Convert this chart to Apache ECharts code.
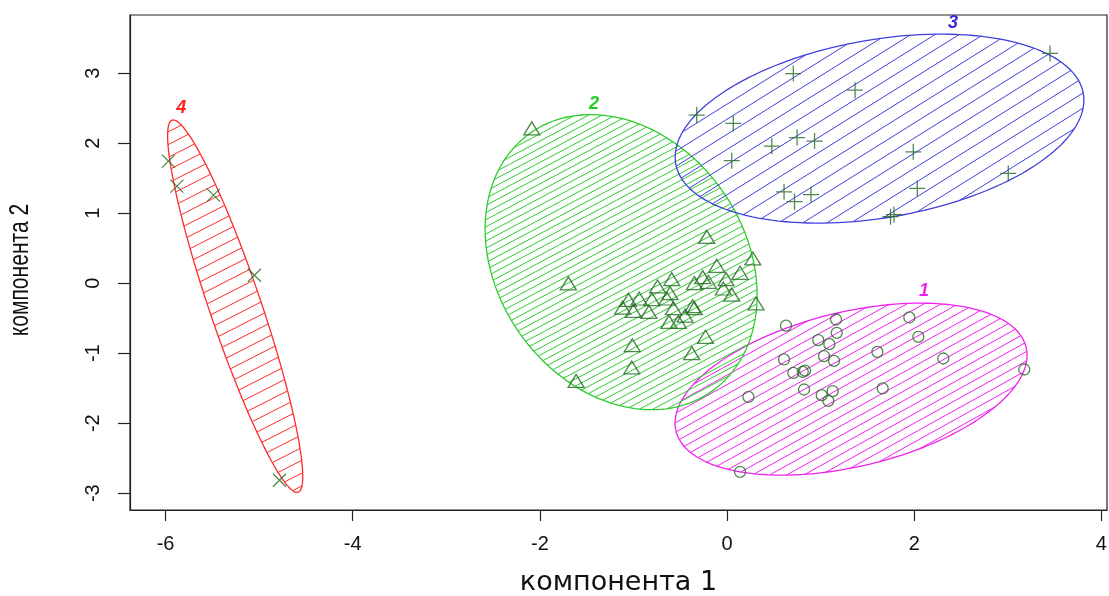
<!DOCTYPE html>
<html><head><meta charset="utf-8">
<script src="https://cdn.jsdelivr.net/npm/echarts@6/dist/echarts.min.js"></script>
<style>html,body{margin:0;padding:0;background:#fff}#c{width:1109px;height:596px}</style>
</head><body><div id="c"></div>
<script>
// ---- data ----
const xTicks = [-6, -4, -2, 0, 2, 4];
const yTicks = [-3, -2, -1, 0, 1, 2, 3];
const xTitle = 'компонента 1';
const yTitle = 'компонента 2';
const clusterNames = ['1', '2', '3', '4'];

// cluster 1 (circles)
const cluster1 = [
  [0.630,-0.607],[1.165,-0.519],[1.948,-0.490],[1.172,-0.710],[0.975,-0.814],
  [1.093,-0.871],[2.044,-0.767],[1.606,-0.981],[2.311,-1.076],[0.609,-1.090],
  [1.036,-1.043],[1.143,-1.110],[3.176,-1.233],[0.708,-1.281],[0.809,-1.267],
  [0.833,-1.250],[0.823,-1.519],[1.663,-1.504],[1.012,-1.600],[1.129,-1.543],
  [1.082,-1.681],[0.228,-1.624],[0.139,-2.696]
];
// cluster 2 (triangles)
const cluster2 = [
  [-2.087,2.210],[-0.217,0.661],[0.275,0.353],[-0.110,0.247],[0.139,0.147],
  [-0.260,0.086],[-0.200,0.019],[-0.349,0.000],[-0.591,0.057],[-0.743,-0.047],
  [-0.011,0.057],[-0.040,-0.076],[0.050,-0.164],[0.310,-0.290],[-1.696,-0.004],
  [-0.609,-0.143],[-0.804,-0.229],[-0.644,-0.219],[-0.940,-0.219],[-1.054,-0.239],
  [-1.116,-0.350],[-1.001,-0.396],[-0.835,-0.411],[-0.574,-0.357],[-0.369,-0.329],
  [-0.350,-0.357],[-0.449,-0.464],[-0.620,-0.553],[-0.520,-0.553],[-0.230,-0.767],
  [-1.013,-0.886],[-0.377,-1.000],[-1.018,-1.204],[-1.613,-1.396]
];
// cluster 3 (plus)
const cluster3 = [
  [-0.324,2.400],[0.067,2.281],[0.708,2.993],[1.368,2.757],[0.478,1.957],
  [0.748,2.079],[0.935,2.029],[0.050,1.750],[3.451,3.281],[1.990,1.876],
  [3.005,1.567],[0.609,1.304],[0.721,1.164],[0.897,1.264],[2.033,1.353],
  [1.747,0.950],[1.784,0.979]
];
// cluster 4 (x)
const cluster4 = [
  [-5.969,1.743],[-5.879,1.386],[-5.488,1.257],[-5.050,0.114],[-4.783,-2.814]
];

// cluster ellipses: centre and two conjugate semi-axis vectors (data units)
const ellipseCX  = [1.325, -1.132, 1.629, -5.256];
const ellipseCY  = [-1.514, 0.300, 2.207, -0.329];
const ellipseAX  = [1.871, 0.968, 2.178, -0.673];
const ellipseAY  = [0.596, -1.846, 0.499, 2.657];
const ellipseBX  = [0.191, -1.084, 0.160, 0.262];
const ellipseBY  = [-1.074, -1.016, -1.254, 0.118];
// cluster number label positions (data units)
const labelX = [2.105, -1.421, 2.415, -5.833];
const labelY = [-0.114, 2.557, 3.714, 2.500];

// ---- styles ----
const clusterColor = ['#ee22ee', '#2ecc2e', '#4040dd', '#ff2a2a'];
const labelColor   = ['#ee22ee', '#22cc22', '#3a2ad8', '#ff2020'];
const hatchAngle   = [29, 28, 32, 27];       // degrees, rising to the right
const hatchSpacing = [8.3, 6.3, 12.8, 11.4]; // px, perpendicular
const pointColor = '#246a24';
const narrowFont = '"Liberation Sans", Arial, sans-serif';

function renderEllipse(params, api) {
  const i = api.value(0);
  const N = 160, pts = [];
  for (let k = 0; k < N; k++) {
    const t = 2 * Math.PI * k / N;
    const x = ellipseCX[i] + ellipseAX[i] * Math.cos(t) + ellipseBX[i] * Math.sin(t);
    const y = ellipseCY[i] + ellipseAY[i] * Math.cos(t) + ellipseBY[i] * Math.sin(t);
    pts.push(api.coord([x, y]));
  }
  const th = hatchAngle[i] * Math.PI / 180;
  const nx = Math.sin(th), ny = Math.cos(th);
  const s = pts.map(p => p[0] * nx + p[1] * ny);
  const smin = Math.min(...s), smax = Math.max(...s);
  const sp = hatchSpacing[i];
  const children = [];
  for (let v = Math.ceil(smin / sp) * sp; v <= smax; v += sp) {
    const hits = [];
    for (let k = 0; k < N; k++) {
      const a = s[k], b = s[(k + 1) % N];
      if ((a - v) * (b - v) < 0) {
        const f = (v - a) / (b - a), p = pts[k], q = pts[(k + 1) % N];
        hits.push([p[0] + f * (q[0] - p[0]), p[1] + f * (q[1] - p[1])]);
      }
    }
    if (hits.length >= 2) {
      children.push({type: 'line', shape: {x1: hits[0][0], y1: hits[0][1], x2: hits[1][0], y2: hits[1][1]},
        style: {stroke: clusterColor[i], lineWidth: 1}});
    }
  }
  children.push({type: 'polygon', shape: {points: pts}, style: {stroke: clusterColor[i], fill: null, lineWidth: 1.3}});
  const lp = api.coord([labelX[i], labelY[i]]);
  children.push({type: 'text', x: lp[0], y: lp[1], style: {text: clusterNames[i], fill: labelColor[i],
    font: 'italic bold 18px "Liberation Sans", Arial', align: 'center', verticalAlign: 'middle'}});
  return {type: 'group', children};
}

const ptStyle = {color: 'transparent', borderColor: pointColor, borderWidth: 1.3};
const chart = echarts.init(document.getElementById('c'));
chart.setOption({
  animation: false,
  backgroundColor: '#fff',
  grid: {left: 130, top: 15, width: 977, height: 495, show: true, borderColor: '#222', borderWidth: 1.2,
         backgroundColor: '#fff', containLabel: false, outerBoundsMode: 'none'},
  graphic: [{
    type: 'text', x: 7, y: 270, rotation: Math.PI / 2, scaleX: 0.78,
    style: {text: yTitle, font: '27px ' + narrowFont, fill: '#111', align: 'center', verticalAlign: 'top'}
  }],
  xAxis: {
    type: 'value', min: -6.38, max: 4.06,
    name: xTitle, nameLocation: 'middle', nameGap: 59,
    nameTextStyle: {fontFamily: '"DejaVu Sans"', fontSize: 27, color: '#111'},
    axisLine: {show: true, onZero: false, lineStyle: {color: '#222', width: 1.2}},
    axisTick: {show: true, customValues: xTicks, length: 11, lineStyle: {color: '#222', width: 1.2}},
    axisLabel: {customValues: xTicks, margin: 24, fontSize: 20, color: '#111', fontFamily: narrowFont},
    splitLine: {show: false}
  },
  yAxis: {
    type: 'value', min: -3.24, max: 3.83,
    axisLine: {show: true, onZero: false, lineStyle: {color: '#222', width: 1.2}},
    axisTick: {show: true, customValues: yTicks, length: 12, lineStyle: {color: '#222', width: 1.2}},
    axisLabel: {customValues: yTicks, rotate: 90, margin: 27, fontSize: 20, color: '#111', fontFamily: narrowFont},
    splitLine: {show: false}
  },
  series: [
    {type: 'custom', renderItem: renderEllipse, data: [[0], [1], [2], [3]], z: 1, silent: true},
    {type: 'scatter', data: cluster1, symbol: 'circle', symbolSize: 11, itemStyle: ptStyle, z: 5},
    {type: 'scatter', data: cluster2, symbol: 'path://M0,13 L8,0 L16,13 Z', symbolSize: [16, 13], itemStyle: ptStyle, z: 5},
    {type: 'scatter', data: cluster3, symbol: 'path://M0,8 L16,8 M8,0 L8,16', symbolSize: 16, itemStyle: ptStyle, z: 5},
    {type: 'scatter', data: cluster4, symbol: 'path://M0,0 L12,12 M12,0 L0,12', symbolSize: 13, itemStyle: ptStyle, z: 5}
  ]
});
</script>
</body></html>
